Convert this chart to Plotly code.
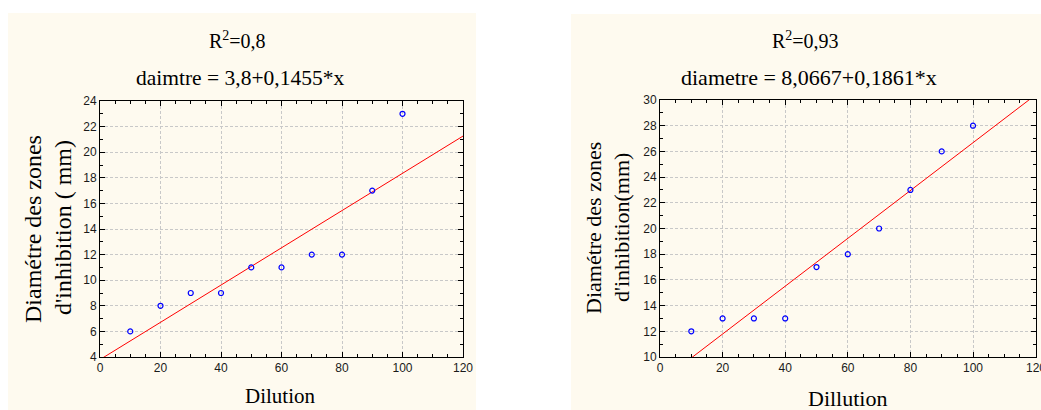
import plotly.graph_objects as go

dilution = [10, 20, 30, 40, 50, 60, 70, 80, 90, 100]
diam_left = [6, 8, 9, 9, 11, 11, 12, 12, 17, 23]
diam_right = [12, 13, 13, 13, 17, 18, 20, 23, 26, 28]
fit_left = (3.8, 0.1455)
fit_right = (8.0667, 0.1861)
line_x = [0, 120]

W, H = 1041, 410
def px(x): return x / W
def py(y): return 1 - y / H

fig = go.Figure()
serif = "Liberation Serif, Times New Roman, serif"
sans = "Liberation Sans, Arial, sans-serif"

for i, (ys, fit) in enumerate([(diam_left, fit_left), (diam_right, fit_right)]):
    xa = "x" if i == 0 else "x2"
    ya = "y" if i == 0 else "y2"
    b0, b1 = fit
    fig.add_trace(go.Scatter(x=line_x, y=[b0 + b1 * v for v in line_x], mode="lines",
                             line=dict(color="#ff0000", width=1), xaxis=xa, yaxis=ya,
                             showlegend=False, hoverinfo="skip"))
    fig.add_trace(go.Scatter(x=dilution, y=ys, mode="markers",
                             marker=dict(symbol="circle-open", size=5, color="#0000ff",
                                         line=dict(width=1.2, color="#0000ff")),
                             xaxis=xa, yaxis=ya, showlegend=False))

axis_common = dict(showline=True, linecolor="black", linewidth=1, mirror="allticks",
                   ticks="inside", ticklen=5, tickcolor="black", tickwidth=1,
                   showgrid=True, gridcolor="#c8c8c8", griddash="3px,2px", gridwidth=1,
                   zeroline=False, automargin=False,
                   tickfont=dict(family=sans, size=12, color="#1a1a1a"))

fig.update_layout(
    width=W, height=H, margin=dict(l=0, r=0, t=0, b=0),
    paper_bgcolor="white", plot_bgcolor="white",
    xaxis=dict(domain=[px(100), px(463)], range=[0, 120], dtick=20,
               minor=dict(ticks="inside", dtick=5, ticklen=3, tickcolor="black", showgrid=False),
               anchor="y", **axis_common),
    yaxis=dict(domain=[py(357), py(101)], range=[4, 24], dtick=2,
               minor=dict(ticks="inside", dtick=1, ticklen=3, tickcolor="black", showgrid=False),
               anchor="x", **axis_common),
    xaxis2=dict(domain=[px(660), px(1035.6)], range=[0, 120], dtick=20,
                minor=dict(ticks="inside", dtick=5, ticklen=3, tickcolor="black", showgrid=False),
                anchor="y2", **axis_common),
    yaxis2=dict(domain=[py(357), py(100)], range=[10, 30], dtick=2,
                minor=dict(ticks="inside", dtick=1, ticklen=3, tickcolor="black", showgrid=False),
                anchor="x2", **axis_common),
)

cream = "#fefaef"
fig.add_shape(type="rect", xref="paper", yref="paper", x0=px(8), x1=px(476), y0=0, y1=py(13),
              fillcolor=cream, line=dict(width=0), layer="below")
fig.add_shape(type="rect", xref="paper", yref="paper", x0=px(571), x1=1, y0=0, y1=py(14),
              fillcolor=cream, line=dict(width=0), layer="below")

def ann(text, x, y, size, angle=0, family=serif, color="black"):
    fig.add_annotation(text=text, x=px(x), y=py(y), xref="paper", yref="paper",
                       showarrow=False, textangle=angle, xanchor="center", yanchor="middle",
                       font=dict(family=family, size=size, color=color))

ann("R<sup>2</sup>=0,8", 237, 40, 20)
ann("daimtre = 3,8+0,1455*x", 240, 78, 21.5)
ann("Diamétre des zones", 33, 229, 24, -90)
ann("d'inhibition ( mm)", 63, 228, 24, -90)
ann("Dilution", 280, 396, 21)

ann("R<sup>2</sup>=0,93", 805, 40, 20)
ann("diametre = 8,0667+0,1861*x", 809, 78, 22)
ann("Diamétre des zones", 593, 228, 22, -90)
ann("d'inhibition(mm)", 621, 228, 22, -90)
ann("Dillution", 847, 398, 22)

# clipped "120" tick label at the right edge of the second panel
fig.add_annotation(text="120", x=px(1035.6), y=py(368), xref="paper", yref="paper",
                   showarrow=False, xanchor="center", yanchor="middle",
                   font=dict(family=sans, size=12, color="#1a1a1a"))

fig.write_html("out.html")
